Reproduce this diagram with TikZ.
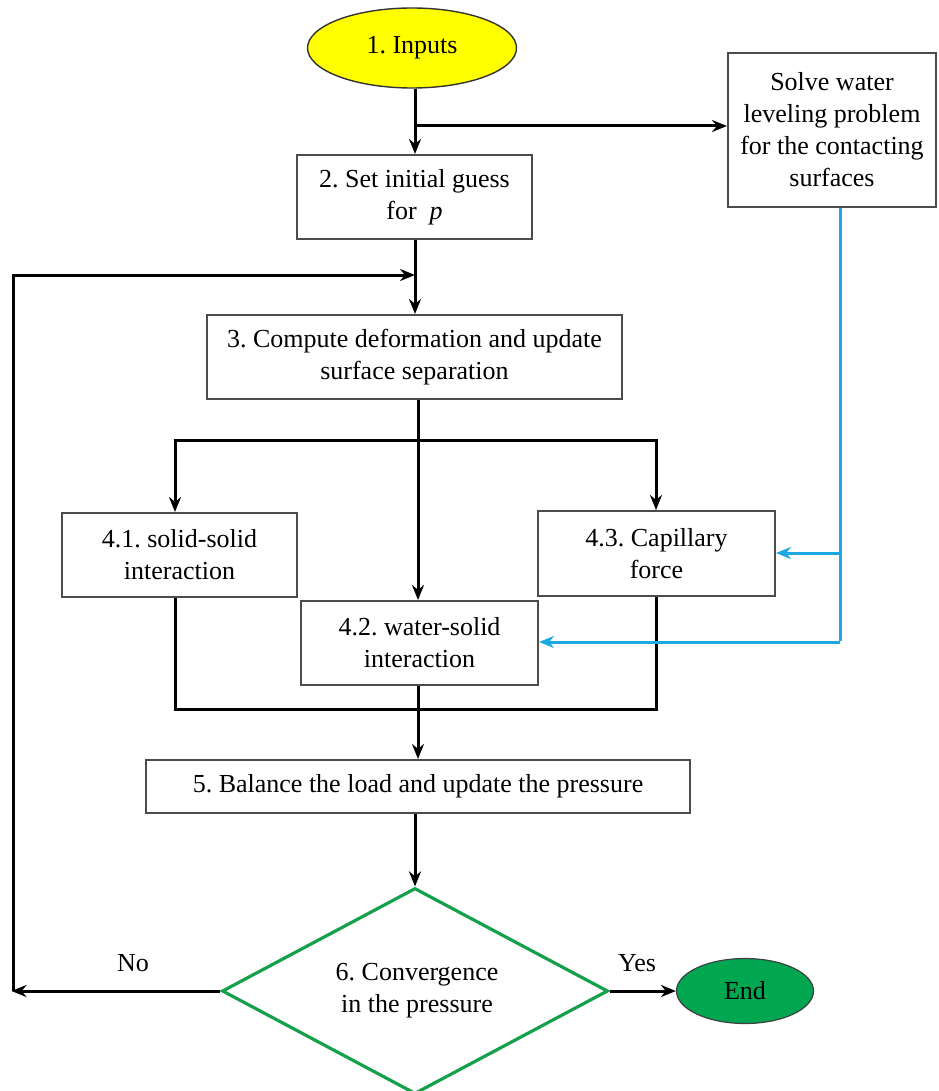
\documentclass[tikz,border=0pt]{standalone}
\usepackage{fontspec}
\setmainfont{Liberation Serif}
\usetikzlibrary{shapes.geometric,arrows.meta}
\definecolor{inyellow}{RGB}{255,255,0}
\definecolor{decgreen}{RGB}{22,160,75}
\definecolor{endgreen}{RGB}{0,166,80}
\definecolor{wire}{RGB}{28,168,226}
\frenchspacing
\begin{document}
\begin{tikzpicture}[x=1pt,y=-1pt,
  every node/.style={font=\fontsize{26}{32}\selectfont, align=center, inner sep=0pt},
  box/.style={draw=black!70, line width=2pt, fill=white, rectangle},
  flow/.style={draw=black, line width=3pt, -{Stealth[length=15pt,width=12pt]}},
  link/.style={draw=black, line width=3pt},
  water/.style={draw=wire, line width=3pt, -{Stealth[length=15pt,width=12pt]}},
  waterlink/.style={draw=wire, line width=3pt}]
\useasboundingbox (0,0) rectangle (938,1091);

% nodes
\node[ellipse, draw=black!80, line width=1.4pt, fill=inyellow, minimum width=209pt, minimum height=80pt] (inp) at (412,48) {1. Inputs};
\node[box, minimum width=208pt, minimum height=154pt] (solve) at (832,130) {Solve water\\leveling problem\\for the contacting\\surfaces};
\node[box, minimum width=235pt, minimum height=84pt] (guess) at (414.5,197) {2. Set initial guess\\for \ \textit{p}};
\node[box, minimum width=415pt, minimum height=84pt] (deform) at (414.5,357) {3. Compute deformation and update\\surface separation};
\node[box, minimum width=235pt, minimum height=84pt] (ss) at (179.5,555) {4.1. solid-solid\\interaction};
\node[box, minimum width=237pt, minimum height=85pt] (cap) at (656.5,553.5) {4.3. Capillary\\force};
\node[box, minimum width=237pt, minimum height=84pt] (ws) at (419.5,643) {4.2. water-solid\\interaction};
\node[box, minimum width=544pt, minimum height=53pt] (bal) at (418,786.5) {5. Balance the load and update the pressure};
\node[diamond, draw=decgreen, line width=3.2pt, minimum width=386pt, minimum height=206pt] (conv) at (415,991) {};
\node (convtxt) at (417,991) {6. Convergence\\in the pressure};
\node[ellipse, draw=black!75, line width=1.2pt, fill=endgreen, minimum width=137pt, minimum height=65pt] (end) at (745,991) {End};
\node (no) at (133,963) {No};
\node (yes) at (637,963) {Yes};

% junction points
\coordinate (split) at (415,126);
\coordinate (merge) at (415,275);
\coordinate (loopL) at (13,275);
\coordinate (loopB) at (13,991);
\coordinate (fan) at (418,440);
\coordinate (fanL) at (175,440);
\coordinate (fanR) at (656,440);
\coordinate (joinL) at (175,709);
\coordinate (joinR) at (656,709);
\coordinate (join) at (418,709);
\coordinate (wtop) at (840,207);
\coordinate (wmid) at (840,553);
\coordinate (wbot) at (840,642);

% main flow
\draw[flow] (inp.south -| split) -- (guess.north -| split);
\draw[flow] (split) -- (solve.west |- split);
\draw[link] (guess.south -| merge) -- (merge);
\draw[flow] (merge) -- (deform.north -| merge);
\draw[flow] ([xshift=-1.5pt]loopL) -- (merge);
\draw[link] (loopL) -- (loopB);
\draw[flow] (conv.west) -- ([xshift=-1.5pt]loopB);

\draw[flow] (deform.south -| fan) -- (ws.north -| fan);
\draw[link] ([xshift=-1.5pt]fanL) -- ([xshift=1.5pt]fanR);
\draw[flow] (fanL) -- (ss.north -| fanL);
\draw[flow] (fanR) -- (cap.north -| fanR);

\draw[link] (ss.south -| joinL) -- (joinL) -- (joinR) -- (cap.south -| joinR);
\draw[link] (ws.south -| join) -- (join);
\draw[flow] (join) -- (bal.north -| join);
\draw[flow] (bal.south -| conv.north) -- (conv.north);
\draw[flow] (conv.east) -- (end.west);

% water-leveling feed
\draw[waterlink] (solve.south -| wtop) -- ([yshift=1.5pt]wbot);
\draw[water] (wmid) -- (cap.east |- wmid);
\draw[water] (wbot) -- (ws.east |- wbot);
\end{tikzpicture}
\end{document}
